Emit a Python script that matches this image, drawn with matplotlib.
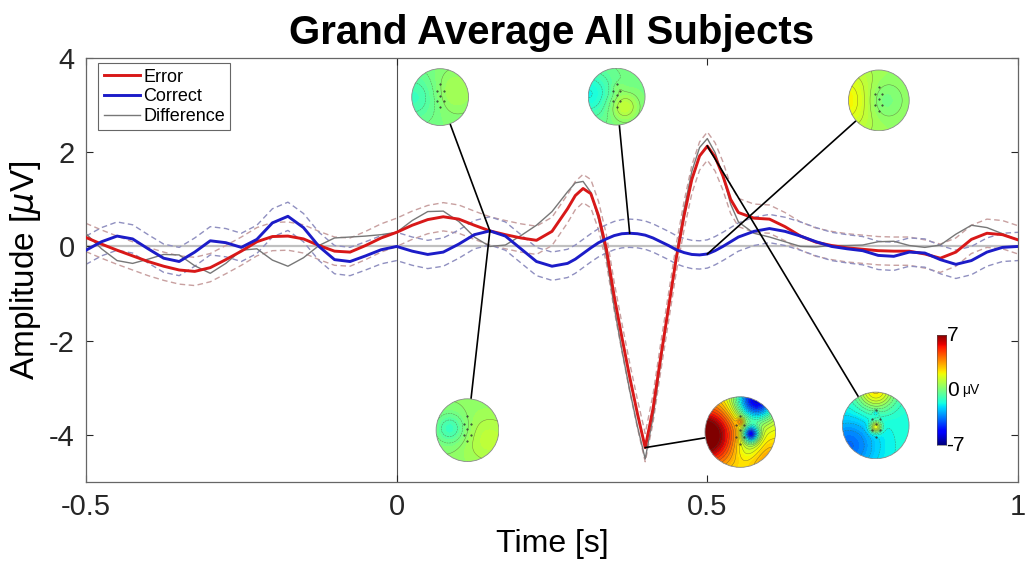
import numpy as np
import matplotlib
matplotlib.use("Agg")
import matplotlib.pyplot as plt
from matplotlib.patches import Circle

plt.rcParams['font.family'] = ['Liberation Sans', 'DejaVu Sans']
plt.rcParams['axes.unicode_minus'] = False

# time axis: 25 ms steps, 12.5 ms steps around the big deflection
t_pre = np.round(np.arange(-0.5, 0.2751, 0.025), 4)
t_mid = np.round(np.arange(0.2875, 0.5501, 0.0125), 4)
t_post = np.round(np.arange(0.575, 1.0001, 0.025), 4)
time = np.concatenate([t_pre, t_mid, t_post])

error = [0.19, 0.05, -0.08, -0.20, -0.32, -0.42, -0.50, -0.53, -0.45, -0.28, -0.10, 0.10,
         0.21, 0.22, 0.16, 0.02, -0.10, -0.12, 0.02, 0.18, 0.30, 0.45, 0.57, 0.63,
         0.58, 0.45, 0.33, 0.25, 0.18, 0.13, 0.32, 0.80,
         1.08, 1.23, 1.12, 0.65, -0.05, -1.05, -1.93, -2.77, -3.55, -4.27, -3.45, -2.35,
         -1.30, -0.25, 0.65, 1.42, 1.92, 2.13, 1.90, 1.50, 1.00, 0.72,
         0.60, 0.58, 0.42, 0.22, 0.09, 0.02, -0.03, -0.06, -0.09, -0.10, -0.10, -0.16,
         -0.25, -0.12, 0.15, 0.28, 0.25, 0.14]
correct = [-0.08, 0.10, 0.22, 0.16, -0.05, -0.25, -0.32, -0.12, 0.12, 0.08, -0.02, 0.15,
           0.50, 0.64, 0.40, 0.00, -0.28, -0.32, -0.20, -0.07, 0.00, -0.10, -0.17, -0.12,
           0.05, 0.25, 0.33, 0.22, -0.05, -0.32, -0.42, -0.36,
           -0.27, -0.15, -0.03, 0.08, 0.16, 0.23, 0.27, 0.28, 0.27, 0.24, 0.18, 0.10,
           0.02, -0.07, -0.13, -0.17, -0.18, -0.16, -0.09, 0.00, 0.10, 0.20,
           0.32, 0.38, 0.32, 0.22, 0.10, 0.00, -0.05, -0.09, -0.19, -0.21, -0.12, -0.14,
           -0.28, -0.38, -0.30, -0.12, -0.02, 0.00]
difference = [0.27, -0.05, -0.30, -0.36, -0.27, -0.17, -0.18, -0.41, -0.57, -0.36, -0.08, -0.05,
              -0.29, -0.42, -0.24, 0.02, 0.18, 0.20, 0.22, 0.25, 0.30, 0.55, 0.74, 0.75,
              0.53, 0.20, 0.00, 0.03, 0.23, 0.45, 0.74, 1.16,
              1.35, 1.38, 1.15, 0.57, -0.21, -1.28, -2.20, -3.05, -3.82, -4.51, -3.63, -2.45,
              -1.32, -0.18, 0.78, 1.59, 2.10, 2.29, 1.99, 1.50, 0.90, 0.52,
              0.28, 0.20, 0.10, 0.00, -0.01, 0.02, 0.02, 0.03, 0.10, 0.11, 0.02, -0.02,
              0.03, 0.26, 0.45, 0.40, 0.27, 0.14]
error_ci = 0.30
correct_ci = 0.30

# topographies: (time, amplitude) of the map centre, radius in px,
# the waveform point it is tied to, and the field (baseline + gaussian blobs x, y, sigma, amp)
topo_pos = [(0.070, 3.17), (0.354, 3.18), (0.776, 3.10),
            (0.114, -3.90), (0.553, -3.94), (0.771, -3.80)]
topo_rad = [29, 29, 31, 32, 36, 34]
topo_link = [(0.15, 'correct'), (0.375, 'correct'), (0.5, 'correct'),
             (0.15, 'correct'), (0.4, 'error'), (0.5, 'error')]
topo_base = [0.0, -0.1, 0.5, 0.3, 2.0, -1.6]
topo_blobs = [
    [(-0.9, 0.0, 0.6, -1.1), (0.5, 0.2, 0.55, 0.8)],
    [(-1.0, 0.1, 0.6, -1.7), (0.25, -0.35, 0.35, 1.4), (0.05, 0.3, 0.15, 0.4)],
    [(-1.1, 0.0, 0.7, 1.7), (0.1, 0.0, 0.45, -0.9)],
    [(-0.55, 0.05, 0.35, -1.5), (0.7, -0.3, 0.6, 0.8)],
    [(-1.0, -0.1, 0.55, 6.5), (0.45, 0.9, 0.4, -8.0), (0.3, -0.05, 0.16, -7.0),
     (0.0, 0.3, 0.07, 2.0), (0.75, -0.8, 0.4, 1.5), (0.25, -0.4, 0.3, -1.5)],
    [(0.0, 1.05, 0.4, 4.0), (-0.8, -0.6, 0.6, -2.2), (0.0, -0.05, 0.12, 3.8),
     (0.0, 0.38, 0.06, -1.2)],
]
electrodes = [(0, 0.45), (-0.12, 0.2), (0.12, 0.2), (0, 0.05), (-0.12, -0.15),
              (0.12, -0.15), (0, -0.35)]
cbar_box = (0.869, 0.884, -4.22, -1.88)

series = {'error': error, 'correct': correct}

fig = plt.figure(figsize=(10.28, 5.77), dpi=100)
ax = fig.add_axes([86 / 1028, 1 - 482 / 577, 932 / 1028, 424 / 577])

ax.axhline(0, color='#c0c0c0', lw=1.6, zorder=1)
ax.axvline(0, color='#505050', lw=0.8, zorder=1)

e = np.array(error)
c = np.array(correct)
ax.plot(time, e + error_ci, color='#c8a0a0', lw=1.0, dashes=(4, 2.5), zorder=2)
ax.plot(time, e - error_ci, color='#c8a0a0', lw=1.0, dashes=(4, 2.5), zorder=2)
ax.plot(time, c + correct_ci, color='#9090c0', lw=1.0, dashes=(4, 2.5), zorder=2)
ax.plot(time, c - correct_ci, color='#9090c0', lw=1.0, dashes=(4, 2.5), zorder=2)
l3, = ax.plot(time, difference, color='#777777', lw=1.0, zorder=3)
l1, = ax.plot(time, error, color='#d81818', lw=2.1, zorder=4)
l2, = ax.plot(time, correct, color='#1c1cc8', lw=2.1, zorder=4)

ax.set_xlim(-0.5, 1)
ax.set_ylim(-5, 4)
ax.set_xticks([-0.5, 0, 0.5, 1])
ax.set_xticklabels(['-0.5', '0', '0.5', '1'])
ax.set_yticks([-4, -2, 0, 2, 4])
ax.tick_params(direction='in', length=5, width=0.8, top=True, right=True,
               labelsize=21, colors='#262626', pad=8)
for s in ax.spines.values():
    s.set_color('#666666')
    s.set_linewidth(0.9)
ax.set_xlabel('Time [s]', fontsize=23, labelpad=6)
ax.set_ylabel('Amplitude [$\\mu$V]', fontsize=24, labelpad=4)
ax.set_title('Grand Average All Subjects', fontsize=29, fontweight='bold', pad=10)

leg = ax.legend([l1, l2, l3], ['Error', 'Correct', 'Difference'], loc='upper left',
                bbox_to_anchor=(0.013, 0.988), fontsize=13, frameon=True, fancybox=False,
                edgecolor='#404040', handlelength=2.0, handletextpad=0.2,
                labelspacing=0.15, borderpad=0.3, borderaxespad=0)
leg.get_frame().set_linewidth(0.8)

# connector lines from each map to its time point
for (tc, vc), (tl, key) in zip(topo_pos, topo_link):
    vl = series[key][int(np.argmin(np.abs(time - tl)))]
    ax.plot([tc, tl], [vc, vl], color='k', lw=1.2, zorder=5)

fig.canvas.draw()
W, H = fig.bbox.width, fig.bbox.height
gx, gy = np.meshgrid(np.linspace(-1, 1, 120), np.linspace(-1, 1, 120))
for (tc, vc), r, base, blobs in zip(topo_pos, topo_rad, topo_base, topo_blobs):
    px, py = ax.transData.transform((tc, vc))
    tax = fig.add_axes([(px - r) / W, (py - r) / H, 2 * r / W, 2 * r / H])
    tax.set_xlim(-1.02, 1.02)
    tax.set_ylim(-1.02, 1.02)
    tax.set_axis_off()
    field = np.full_like(gx, base)
    for bx, by, bs, ba in blobs:
        field += ba * np.exp(-((gx - bx) ** 2 + (gy - by) ** 2) / (2 * bs ** 2))
    clip = Circle((0, 0), 1, transform=tax.transData)
    cf = tax.contourf(gx, gy, field, levels=np.linspace(-7, 7, 57), cmap='jet', extend='both')
    cf.set_clip_path(clip)
    cl = tax.contour(gx, gy, field, levels=np.arange(-6.75, 7, 0.5), colors='#404040',
                     linewidths=0.35, alpha=0.6)
    cl.set_clip_path(clip)
    tax.add_patch(Circle((0, 0), 1, fill=False, ec='#8a8a8a', lw=0.6))
    ex, ey = zip(*electrodes)
    tax.scatter(ex, ey, s=0.25, color='#303030', zorder=3)

# colour bar
x0, y0 = ax.transData.transform((cbar_box[0], cbar_box[2]))
x1, y1 = ax.transData.transform((cbar_box[1], cbar_box[3]))
cax = fig.add_axes([x0 / W, y0 / H, (x1 - x0) / W, (y1 - y0) / H])
cax.imshow(np.linspace(7, -7, 200)[:, None], cmap='jet', aspect='auto', extent=(0, 1, -7, 7))
cax.set_xticks([])
cax.set_yticks([])
for s in cax.spines.values():
    s.set_linewidth(0.4)
    s.set_color('#555555')
cax.text(1.15, 7, '7', transform=cax.get_yaxis_transform(), fontsize=15, va='center', ha='left')
cax.text(1.15, 0, '0', transform=cax.get_yaxis_transform(), fontsize=15, va='center', ha='left')
cax.text(2.7, 0, 'μV', transform=cax.get_yaxis_transform(), fontsize=10, va='center', ha='left')
cax.text(1.0, -7, '-7', transform=cax.get_yaxis_transform(), fontsize=15, va='center', ha='left')

fig.savefig('out.png', dpi=100)
